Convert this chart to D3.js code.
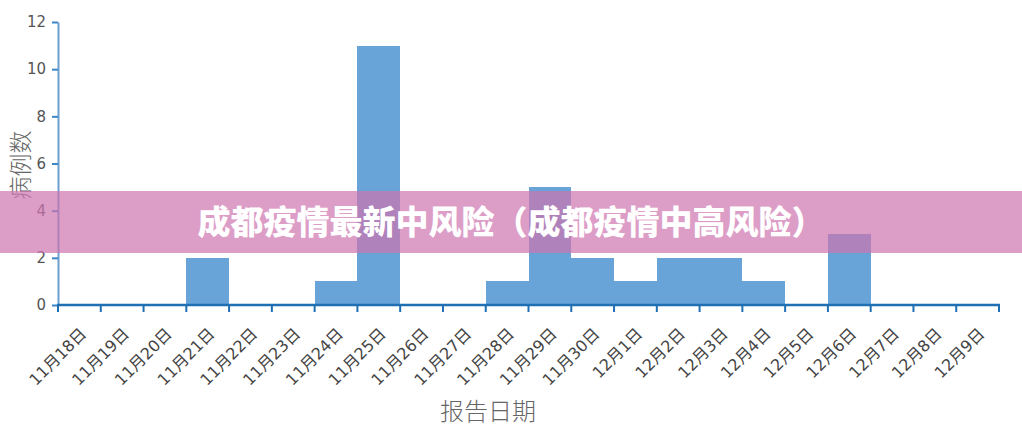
<!DOCTYPE html>
<html>
<head>
<meta charset="utf-8">
<script src="https://cdn.jsdelivr.net/npm/d3@7"></script>
<style>
  body { margin: 0; background: #fff; }
  svg { display: block; }
</style>
</head>
<body>
<div id="chart"></div>
<script>
// Data
var dates = ["11月18日", "11月19日", "11月20日", "11月21日", "11月22日", "11月23日",
             "11月24日", "11月25日", "11月26日", "11月27日", "11月28日", "11月29日",
             "11月30日", "12月1日", "12月2日", "12月3日", "12月4日", "12月5日",
             "12月6日", "12月7日", "12月8日", "12月9日"];
var cases = [0, 0, 0, 2, 0, 0, 1, 11, 0, 0, 1, 5, 2, 1, 2, 2, 1, 0, 3, 0, 0, 0];
var yTicks = [0, 2, 4, 6, 8, 10, 12];

var title = "成都疫情最新中风险（成都疫情中高风险）";
var yTitle = "病例数";
var xTitle = "报告日期";

var width = 1022,
    height = 445,
    margin = {top: 22, right: 23, bottom: 140, left: 58};

var svg = d3.select("#chart").append("svg")
    .attr("width", width)
    .attr("height", height);

var x = d3.scaleBand()
    .domain(dates)
    .range([margin.left, width - margin.right])
    .padding(0);

var y = d3.scaleLinear()
    .domain([0, 12])
    .range([height - margin.bottom, margin.top]);

// Bars
svg.append("g")
    .attr("class", "bars")
  .selectAll("rect")
    .data(cases)
  .enter().append("rect")
    .attr("x", function(d, i) { return x(dates[i]); })
    .attr("y", function(d) { return y(d); })
    .attr("width", x.bandwidth())
    .attr("height", function(d) { return y(0) - y(d); })
    .style("fill", "#68a4d8")
    .attr("shape-rendering", "crispEdges");

// Y axis
var yAxis = svg.append("g")
    .attr("transform", "translate(" + margin.left + ",0)")
    .call(d3.axisLeft(y).tickValues(yTicks).tickSize(6).tickSizeOuter(0).tickPadding(6));
yAxis.select(".domain").style("stroke", "#6c9fd0").style("stroke-width", 2);
yAxis.selectAll(".tick line").style("stroke", "#3c85c6").style("stroke-width", 2);
yAxis.selectAll("text")
    .style("font-family", "'DejaVu Sans', sans-serif")
    .style("font-size", "15px")
    .style("fill", "#555");

// X axis: ticks on band edges
var edges = dates.map(function(d) { return x(d); }).concat([x.range()[1]]);
var xAxisG = svg.append("g").attr("class", "x-axis");
xAxisG.append("line")
    .attr("x1", x.range()[0] - 1)
    .attr("x2", x.range()[1] + 1)
    .attr("y1", y(0))
    .attr("y2", y(0))
    .style("stroke", "#1f6fb5")
    .style("stroke-width", 2.5);
xAxisG.selectAll(".edge")
    .data(edges)
  .enter().append("line")
    .attr("class", "edge")
    .attr("x1", function(d) { return d; })
    .attr("x2", function(d) { return d; })
    .attr("y1", y(0))
    .attr("y2", y(0) + 7)
    .style("stroke", "#1f6fb5")
    .style("stroke-width", 2);
xAxisG.selectAll(".lbl")
    .data(dates)
  .enter().append("text")
    .attr("class", "lbl")
    .attr("transform", function(d) {
      return "translate(" + (x(d) + x.bandwidth() / 2 + 4) + "," + (y(0) + 26) + ") rotate(-45)";
    })
    .attr("text-anchor", "end")
    .attr("dy", "0.35em")
    .style("font-family", "'DejaVu Sans', 'Noto Sans CJK SC', sans-serif")
    .style("font-size", "16px")
    .style("fill", "#444")
    .text(function(d) { return d; });

// Axis titles
svg.append("text")
    .attr("transform", "translate(21,165) rotate(-90)")
    .attr("text-anchor", "middle")
    .attr("dy", "0.35em")
    .style("font-family", "'Noto Sans CJK SC', sans-serif")
    .style("font-weight", 300)
    .style("font-size", "23px")
    .style("fill", "#666")
    .text(yTitle);

svg.append("text")
    .attr("x", 488)
    .attr("y", 412)
    .attr("text-anchor", "middle")
    .attr("dy", "0.35em")
    .style("font-family", "'Noto Sans CJK SC', sans-serif")
    .style("font-weight", 300)
    .style("font-size", "24px")
    .style("fill", "#666")
    .text(xTitle);

// Banner overlay
svg.append("rect")
    .attr("x", 0)
    .attr("y", 191)
    .attr("width", width)
    .attr("height", 62)
    .style("fill", "rgb(205,115,175)")
    .style("fill-opacity", 0.7);

svg.append("text")
    .attr("x", 511)
    .attr("y", 222)
    .attr("text-anchor", "middle")
    .attr("dy", "0.35em")
    .style("font-family", "'Noto Sans CJK SC', sans-serif")
    .style("font-weight", 900)
    .style("font-size", "33px")
    .style("fill", "#fff")
    .text(title);
</script>
</body>
</html>
